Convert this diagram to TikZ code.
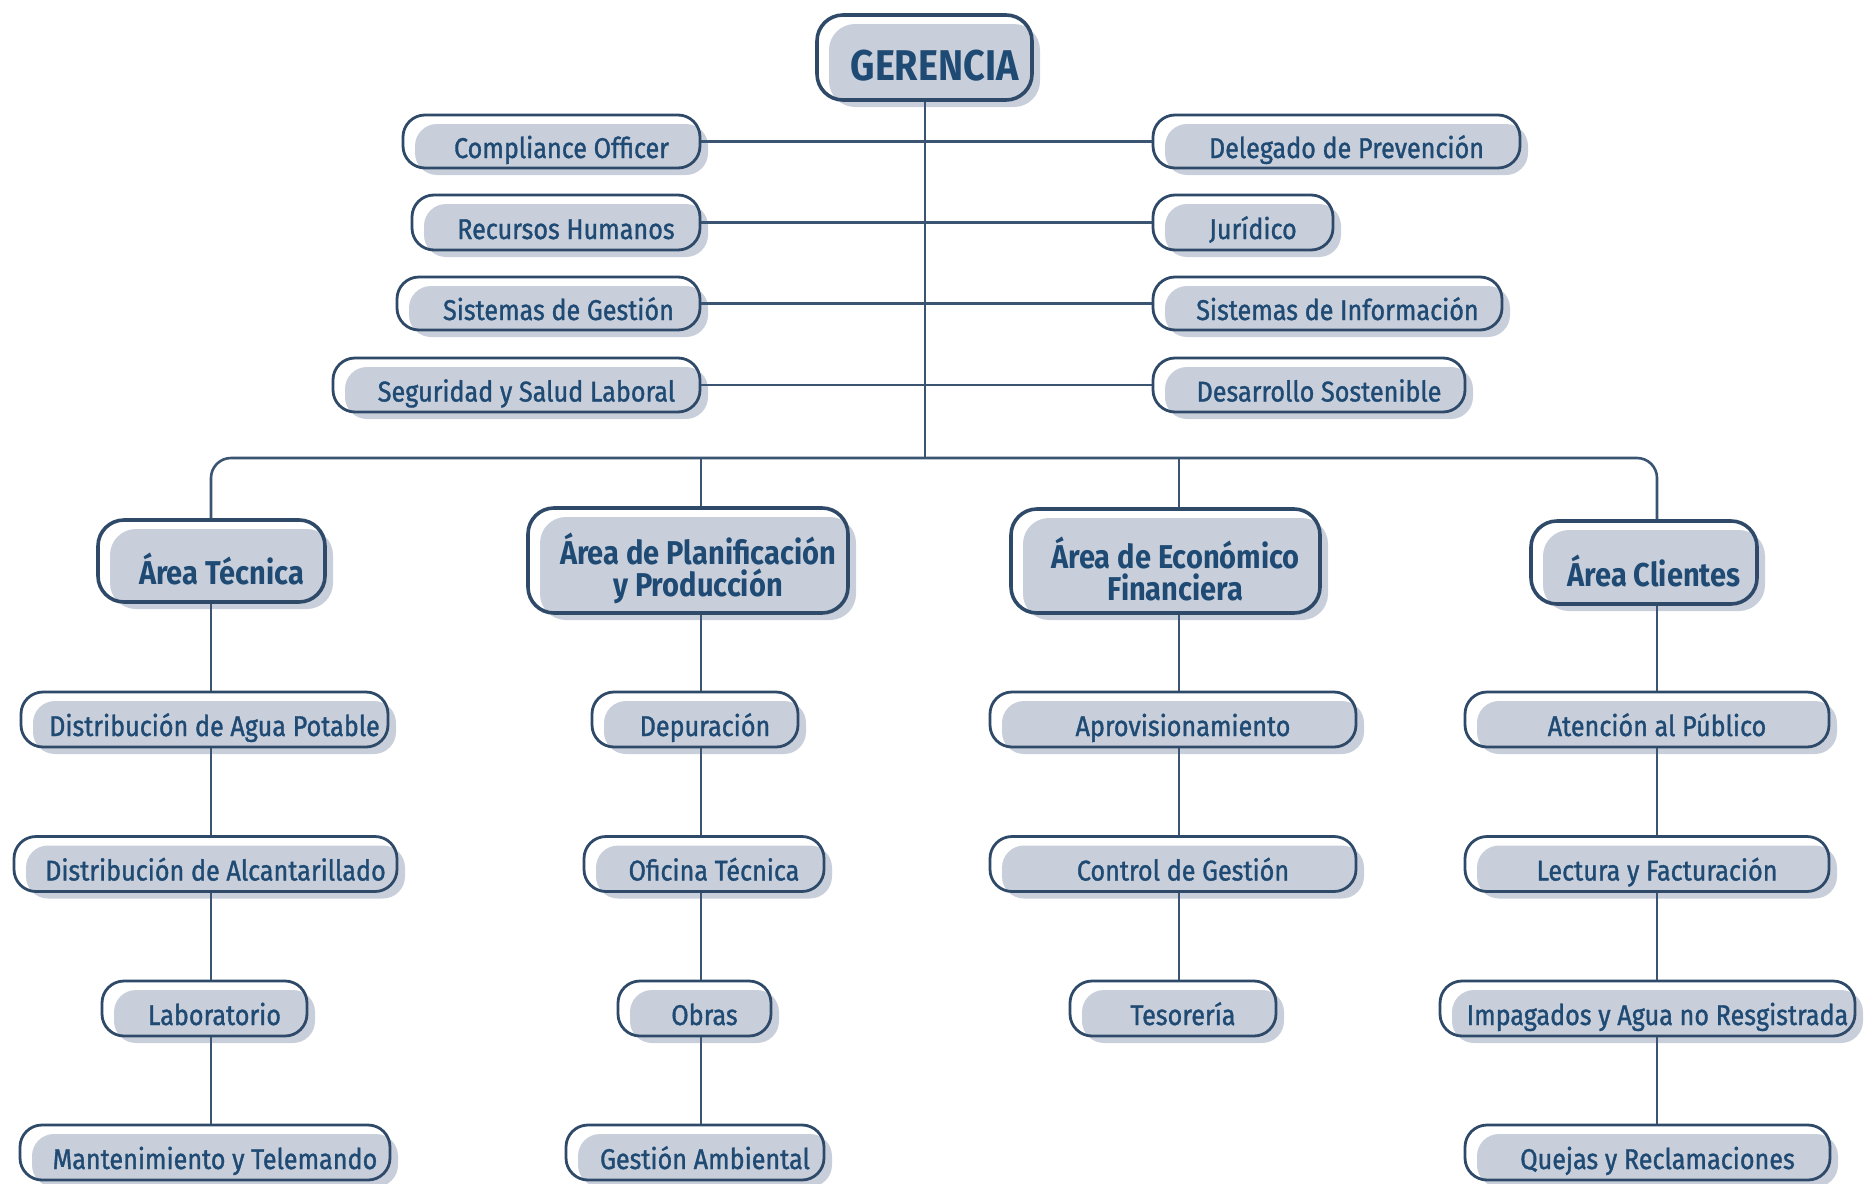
\documentclass[tikz,border=0pt]{standalone}
\usepackage{fontspec}
\setmainfont{Fira Sans}[FakeStretch=0.88]
\newfontfamily\medfont{Fira Sans}[FakeStretch=0.88, FakeBold=1.2]
\definecolor{bord}{HTML}{2E4A68}
\definecolor{shade}{HTML}{C8CFDB}
\definecolor{txt}{HTML}{1F4A73}
\definecolor{conn}{HTML}{3A5472}
\tikzset{
  shadowbox/.style={fill=shade, inner sep=0pt, text=txt, rounded corners=11pt},
  outlinebox/.style={draw=bord, line width=1.4pt, inner sep=0pt, rounded corners=11pt},
  smallshadow/.style={shadowbox, font=\medfont\fontsize{14.3}{16}\selectfont, text height=8.5pt, text depth=0pt},
  smalloutline/.style={outlinebox},
  bigshadow/.style={shadowbox, rounded corners=13pt, align=center, font=\fontsize{16.5}{16}\selectfont\bfseries},
  bigoutline/.style={outlinebox, rounded corners=13pt, line width=1.8pt},
  topshadow/.style={shadowbox, rounded corners=13pt, font=\fontsize{21.5}{22}\selectfont\bfseries, text height=14.8pt, text depth=0pt},
  topoutline/.style={bigoutline},
  connector/.style={draw=conn, line width=1.3pt}
}
% #1 name, #2 x left, #3 x right, #4 y centre, #5 height, #6 kind (small/big/top), #7 text
\newcommand\orgbox[7]{%
  \node[#6shadow, minimum width={(#3-#2-4)*0.5pt}, minimum height={(#5-2)*0.5pt}]
    (#1-sh) at ({(#2+#3)/2+10},{#4+8}) {#7};
  \node[#6outline, minimum width={(#3-#2)*0.5pt}, minimum height={(#5)*0.5pt}]
    (#1) at ({(#2+#3)/2},{#4}) {};
}
\begin{document}
\begin{tikzpicture}[x=0.5pt, y=-0.5pt]
\useasboundingbox (0,0) rectangle (1868,1183);
% top
\orgbox{ger}{817}{1032}{57.5}{85}{top}{GERENCIA}
% left staff
\orgbox{co}{403}{700}{141.5}{53}{small}{Compliance Officer}
\orgbox{rh}{412}{700}{222.5}{55}{small}{Recursos Humanos}
\orgbox{sg}{397}{700}{303.5}{53}{small}{Sistemas de Gestión}
\orgbox{ssl}{333}{700}{385}{54}{small}{Seguridad y Salud Laboral}
% right staff
\orgbox{dp}{1153}{1520}{141.5}{53}{small}{Delegado de Prevención}
\orgbox{ju}{1153}{1333}{222.5}{55}{small}{Jurídico}
\orgbox{si}{1153}{1502}{303.5}{53}{small}{Sistemas de Información}
\orgbox{ds}{1153}{1465}{385}{54}{small}{Desarrollo Sostenible}
% areas
\orgbox{at}{98}{325}{561}{82}{big}{Área Técnica}
\orgbox{ap}{528}{848}{560.5}{105}{big}{Área de Planificación\\y Producción}
\orgbox{ae}{1011}{1320}{561}{104}{big}{Área de Económico\\Financiera}
\orgbox{ac}{1531}{1757}{562.5}{83}{big}{Área Clientes}
% column 1
\orgbox{dap}{21}{388}{719.5}{55}{small}{Distribución de Agua Potable}
\orgbox{dal}{14}{397}{864}{55}{small}{Distribución de Alcantarillado}
\orgbox{lab}{102}{307}{1008.5}{55}{small}{Laboratorio}
\orgbox{mt}{20}{390}{1152.5}{55}{small}{Mantenimiento y Telemando}
% column 2
\orgbox{dep}{592}{798}{719.5}{55}{small}{Depuración}
\orgbox{ot}{584}{824}{864}{55}{small}{Oficina Técnica}
\orgbox{ob}{618}{771}{1008.5}{55}{small}{Obras}
\orgbox{ga}{566}{824}{1152.5}{55}{small}{Gestión Ambiental}
% column 3
\orgbox{apr}{990}{1356}{719.5}{55}{small}{Aprovisionamiento}
\orgbox{cg}{990}{1356}{864}{55}{small}{Control de Gestión}
\orgbox{tes}{1070}{1276}{1008.5}{55}{small}{Tesorería}
% column 4
\orgbox{atp}{1465}{1829}{719.5}{55}{small}{Atención al Público}
\orgbox{lf}{1465}{1829}{864}{55}{small}{Lectura y Facturación}
\orgbox{imp}{1440}{1855}{1008.5}{55}{small}{Impagados y Agua no Resgistrada}
\orgbox{qr}{1465}{1830}{1152.5}{55}{small}{Quejas y Reclamaciones}
% bus coordinates
\coordinate (tr) at (925,458);
\coordinate (c1) at (211,458);
\coordinate (c2) at (701,458);
\coordinate (c3) at (1179,458);
\coordinate (c4) at (1657,458);
% connectors
\draw[connector] (ger.south -| tr) -- (tr);
\draw[connector] (co.east) -- (dp.west);
\draw[connector] (rh.east) -- (ju.west);
\draw[connector] (sg.east) -- (si.west);
\draw[connector] (ssl.east) -- (ds.west);
\draw[connector, rounded corners=10pt] (at.north -| c1) -- (c1) -- (c4) -- (ac.north -| c4);
\draw[connector] (c2) -- (ap.north -| c2);
\draw[connector] (c3) -- (ae.north -| c3);
\draw[connector] (at.south -| c1) -- (dap.north -| c1);
\draw[connector] (dap.south -| c1) -- (dal.north -| c1);
\draw[connector] (dal.south -| c1) -- (lab.north -| c1);
\draw[connector] (lab.south -| c1) -- (mt.north -| c1);
\draw[connector] (ap.south -| c2) -- (dep.north -| c2);
\draw[connector] (dep.south -| c2) -- (ot.north -| c2);
\draw[connector] (ot.south -| c2) -- (ob.north -| c2);
\draw[connector] (ob.south -| c2) -- (ga.north -| c2);
\draw[connector] (ae.south -| c3) -- (apr.north -| c3);
\draw[connector] (apr.south -| c3) -- (cg.north -| c3);
\draw[connector] (cg.south -| c3) -- (tes.north -| c3);
\draw[connector] (ac.south -| c4) -- (atp.north -| c4);
\draw[connector] (atp.south -| c4) -- (lf.north -| c4);
\draw[connector] (lf.south -| c4) -- (imp.north -| c4);
\draw[connector] (imp.south -| c4) -- (qr.north -| c4);
\end{tikzpicture}
\end{document}
